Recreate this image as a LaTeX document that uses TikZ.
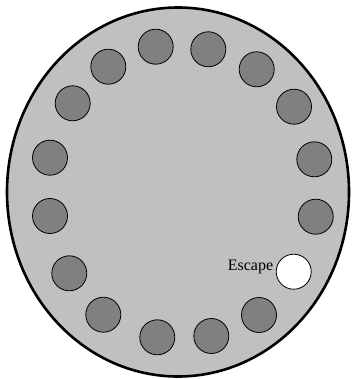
\documentclass[tikz,border=0pt]{standalone}
\usepackage{fontspec}
\setmainfont{Liberation Serif}
\definecolor{plate}{RGB}{192,192,192}
\definecolor{seat}{RGB}{128,128,128}
\begin{document}
\begin{tikzpicture}[x=1pt,y=-1pt,
  seatc/.style={circle,draw=black,line width=0.8pt,fill=seat,minimum size=35pt,inner sep=0pt},
  escc/.style={seatc,fill=white}]
\useasboundingbox (0,0) rectangle (351,379);
\draw[line width=2.6pt,fill=plate] (178,192) ellipse [x radius=171, y radius=184.5];
\node[seatc] (s1) at (155.7,46.7) {};
\node[seatc] (s2) at (208.3,49.3) {};
\node[seatc] (s3) at (256.7,69.3) {};
\node[seatc] (s4) at (294,106.7) {};
\node[seatc] (s5) at (314.3,159.3) {};
\node[seatc] (s6) at (315.7,216.7) {};
\node[escc] (s7) at (293.7,271.7) {};
\node[seatc] (s8) at (259,315) {};
\node[seatc] (s9) at (211.3,336) {};
\node[seatc] (s10) at (157.3,337.3) {};
\node[seatc] (s11) at (103.3,314.7) {};
\node[seatc] (s12) at (69.3,273.3) {};
\node[seatc] (s13) at (50,216) {};
\node[seatc] (s14) at (50,157.7) {};
\node[seatc] (s15) at (72.7,103.3) {};
\node[seatc] (s16) at (108.3,66.7) {};
\node[anchor=base east,inner sep=0pt,font=\fontsize{16}{18}\selectfont] (esc) at (273.3,270) {Escape};
\end{tikzpicture}
\end{document}
